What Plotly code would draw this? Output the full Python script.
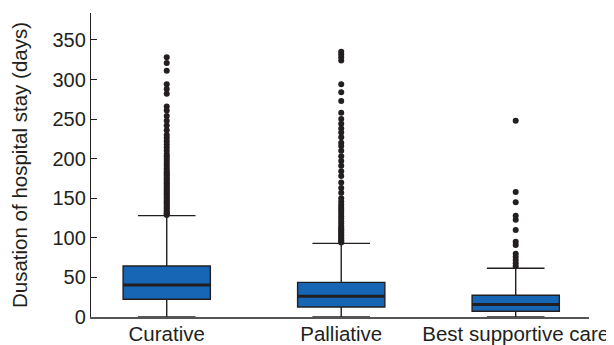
import plotly.graph_objects as go

categories = ["Curative", "Palliative", "Best supportive care"]
positions = [0, 1, 2]
q1 = [22.4, 12.7, 7.2]
median = [40.3, 26.3, 15.7]
q3 = [64.4, 43.7, 27.5]
lower_fence = [0, 0, 0]
upper_fence = [128, 93, 61.5]

outliers_curative = [328, 321, 311, 294, 288, 282, 266, 261, 254, 248, 242, 236, 230,
                     226, 222, 218, 214, 210, 206, 203, 200, 197, 194, 191, 188, 185,
                     183, 181, 179, 177, 175, 173, 171, 169, 167, 165, 163, 161, 159,
                     157, 155, 153, 151, 149, 147, 145, 143, 141, 139, 137, 135, 133,
                     131, 130, 129]
outliers_palliative = [335, 332, 328, 324, 294, 284, 273, 258, 250, 244, 238, 233, 227,
                       220, 216, 210, 203, 197, 191, 184, 178, 170, 163, 157, 150, 146,
                       142, 139, 136, 133, 130, 127, 124, 121, 118, 115, 113, 111, 109,
                       107, 105, 103, 101, 99, 97, 95, 94]
outliers_bsc = [248, 158, 145, 128, 123, 110, 95, 91, 80, 76, 72, 68, 64]
outliers = [outliers_curative, outliers_palliative, outliers_bsc]

y_ticks = [0, 50, 100, 150, 200, 250, 300, 350]
y_title = "Dusation of hospital stay (days)"

FONT = "Liberation Sans, Arial, Helvetica, sans-serif"
BLUE = "#1766b5"
DARK = "#231f20"
BOX_WIDTH = 0.5

fig = go.Figure()
fig.add_trace(go.Box(
    x=positions, q1=q1, median=median, q3=q3,
    lowerfence=lower_fence, upperfence=upper_fence,
    width=BOX_WIDTH, whiskerwidth=0.66,
    fillcolor=BLUE, line=dict(color=DARK, width=1.4),
    boxpoints=False, showlegend=False, hoverinfo="skip",
))

# thicker median bars, drawn from the median values
mx, my = [], []
for p, m in zip(positions, median):
    mx += [p - BOX_WIDTH / 2, p + BOX_WIDTH / 2, None]
    my += [m, m, None]
fig.add_trace(go.Scatter(
    x=mx, y=my, mode="lines", line=dict(color=DARK, width=3),
    showlegend=False, hoverinfo="skip",
))

ox, oy = [], []
for p, vals in zip(positions, outliers):
    ox += [p] * len(vals)
    oy += vals
fig.add_trace(go.Scatter(
    x=ox, y=oy, mode="markers",
    marker=dict(color=DARK, size=6, line=dict(width=0)),
    showlegend=False, hoverinfo="skip",
))

# the page body has an 8px default margin, so the figure is sized to fill the window
fig.update_layout(
    width=606, height=337,
    margin=dict(l=83, r=25, t=5, b=28, autoexpand=False),
    plot_bgcolor="white", paper_bgcolor="white",
    font=dict(family=FONT, color=DARK),
    xaxis=dict(
        range=[-0.434, 2.42], tickvals=positions, ticktext=categories,
        showgrid=False, zeroline=False, showline=True, automargin=False,
        linecolor="#555555", linewidth=1.5, ticks="",
        ticklabelstandoff=-2,
        tickfont=dict(size=20.5, color=DARK, family=FONT),
    ),
    yaxis=dict(
        range=[0, 384], tickvals=y_ticks, automargin=False,
        showgrid=False, zeroline=False, showline=True,
        linecolor=DARK, linewidth=1.3,
        ticks="inside", ticklen=6, tickcolor=DARK, tickwidth=1.2,
        tickfont=dict(size=20, color=DARK, family=FONT),
        title=dict(text=y_title, font=dict(size=20.5, color=DARK, family=FONT), standoff=19),
    ),
)

fig.write_html("out.html")
